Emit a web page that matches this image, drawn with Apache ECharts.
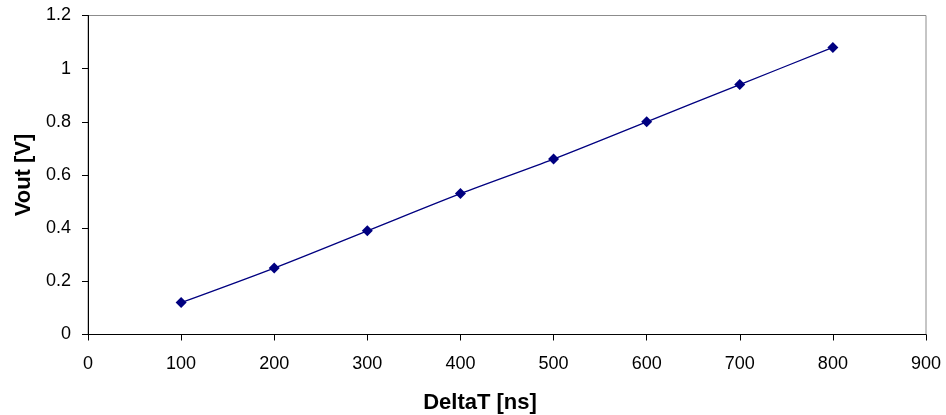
<!DOCTYPE html>
<html>
<head>
<meta charset="utf-8">
<script src="https://cdn.jsdelivr.net/npm/echarts@6/dist/echarts.min.js"></script>
<style>
  html, body { margin: 0; padding: 0; background: #fff; }
  #chart { width: 946px; height: 415px; }
</style>
</head>
<body>
<div id="chart"></div>
<script>
// 数据
const deltaT = [100, 200, 300, 400, 500, 600, 700, 800]
const vout = [0.12, 0.25, 0.39, 0.53, 0.66, 0.80, 0.94, 1.08]

const mChart = echarts.init(document.getElementById('chart'))

const font = 'Liberation Sans, Arial, sans-serif'

const options = {
  animation: false,
  grid: {
    left: 88,
    right: 20,
    top: 15.5,
    bottom: 80.5,
    outerBoundsMode: 'none',
    containLabel: false,
    show: true,
    borderColor: '#8c8c8c',
    borderWidth: 1
  },
  xAxis: {
    type: 'value',
    min: 0,
    max: 900,
    interval: 100,
    name: 'DeltaT [ns]',
    nameLocation: 'middle',
    nameGap: 57,
    nameTextStyle: {
      color: '#000',
      fontFamily: font,
      fontWeight: 'bold',
      fontSize: 22,
      padding: [0, 54, 0, 0]
    },
    axisLine: { show: true, onZero: false, lineStyle: { color: '#000', width: 1 } },
    axisTick: { show: true, length: 6, lineStyle: { color: '#000' } },
    axisLabel: { color: '#000', fontFamily: font, fontSize: 18, margin: 21 },
    splitLine: { show: false }
  },
  yAxis: {
    type: 'value',
    min: 0,
    max: 1.2,
    interval: 0.2,
    name: 'Vout [V]',
    nameLocation: 'middle',
    nameGap: 53,
    nameTextStyle: {
      color: '#000',
      fontFamily: font,
      fontWeight: 'bold',
      fontSize: 22
    },
    axisLine: { show: true, lineStyle: { color: '#000', width: 1 } },
    axisTick: { show: true, length: 6, lineStyle: { color: '#000' } },
    axisLabel: {
      color: '#000',
      fontFamily: font,
      fontSize: 18,
      margin: 17,
      formatter: (v) => String(Math.round(v * 10) / 10)
    },
    splitLine: { show: false }
  },
  series: [
    {
      type: 'line',
      data: deltaT.map((x, i) => [x, vout[i]]),
      smooth: 0.3,
      symbol: 'diamond',
      symbolSize: 11,
      itemStyle: { color: '#000080' },
      lineStyle: { color: '#000080', width: 1.3 }
    }
  ]
}

mChart.setOption(options)
</script>
</body>
</html>
